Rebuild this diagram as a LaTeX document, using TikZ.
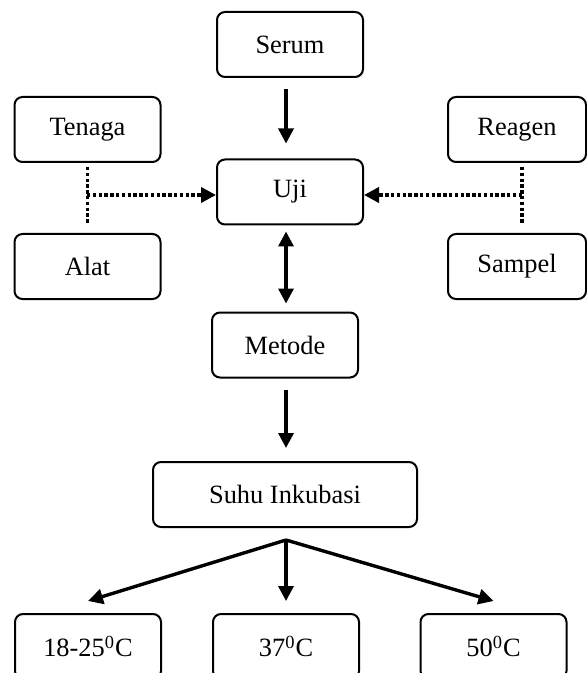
\documentclass[tikz,border=0pt]{standalone}
\usepackage{fontspec}
\setmainfont{Liberation Serif}
\usetikzlibrary{positioning}
\usetikzlibrary{arrows.meta,shapes}
\usetikzlibrary{calc}
\tikzstyle{box}=[rectangle,rounded corners=4pt,draw,line width=1pt,minimum width=73pt,minimum height=32.5pt,inner sep=0pt]
\tikzstyle{widebox}=[box,minimum width=132pt]
\tikzstyle{sidebox}=[box,minimum width=69pt]
\tikzstyle{edge} = [draw,line width=1.7pt,-{Triangle[length=7.5pt,width=7.5pt]}]
\tikzstyle{dualedge} = [draw,line width=1.7pt,{Triangle[length=7.5pt,width=7.5pt]}-{Triangle[length=7.5pt,width=7.5pt]}]
\tikzstyle{dotline} = [draw,line width=1.8pt,dash pattern=on 1.7pt off 1.2pt]
\tikzstyle{dotedge} = [dotline,-{Triangle[length=7.5pt,width=7.5pt]}]

\begin{document}
\begin{tikzpicture}[x=0.5pt, y=-0.5pt, font=\fontsize{13.2}{15}\selectfont]
    \useasboundingbox (0,0) rectangle (587,673);
    \clip (0,0) rectangle (587,673);
    % Main column
    \foreach \pos/\name/\label in {{(290,44.5)/Serum/Serum}, {(290,192)/Uji/Uji}, {(285,345)/Metode/Metode}}
        \node[box] (\name) at \pos {\label};
    \node[widebox] (Suhu) at (285,494.5) {Suhu Inkubasi};

    % Side boxes
    \foreach \pos/\name/\label in {{(87.5,129.5)/Tenaga/Tenaga}, {(87.5,266.5)/Alat/Alat}}
        \node[box] (\name) at \pos {\label};
    \foreach \pos/\name/\label in {{(517,129.5)/Reagen/Reagen}, {(517,266.5)/Sampel/Sampel}}
        \node[sidebox] (\name) at \pos {\label};

    % Temperatures
    \foreach \pos/\name/\label in {{(88,646.5)/Tlow/18-25\textsuperscript{0}C}, {(286,646.5)/Tmid/37\textsuperscript{0}C}, {(493.5,646.5)/Thigh/50\textsuperscript{0}C}}
        \node[box] (\name) at \pos {\label};

    % Connect main column
    \path[edge, shorten <=5.5pt, shorten >=7.5pt] ([xshift=-2pt]Serum.south) -- ([xshift=-2pt]Uji.north);
    \path[dualedge, shorten <=3pt, shorten >=4pt] ([xshift=-2pt]Uji.south) -- ([xshift=0.5pt]Metode.north);
    \path[edge, shorten <=5.5pt, shorten >=6.5pt] ([xshift=0.5pt]Metode.south) -- ([xshift=0.5pt]Suhu.north);

    % Dotted joins
    \coordinate (ljoin) at (87,195);
    \coordinate (rjoin) at (522,195);
    \path[dotline] ([yshift=-2pt]Tenaga.south) -- ([yshift=4.5pt]Alat.north);
    \path[dotline] ([xshift=2.5pt,yshift=-2pt]Reagen.south) -- ([xshift=2.5pt,yshift=4.5pt]Sampel.north);
    \path[dotedge] (ljoin) -- (ljoin -| Uji.west);
    \path[dotedge] (rjoin) -- (rjoin -| Uji.east);

    % Branch to temperatures
    \coordinate (fork) at (286,540);
    \foreach \dest in {Tlow, Tmid, Thigh}
        \path[edge] (fork) -- ([yshift=6pt]\dest.north);
\end{tikzpicture}
\end{document}
